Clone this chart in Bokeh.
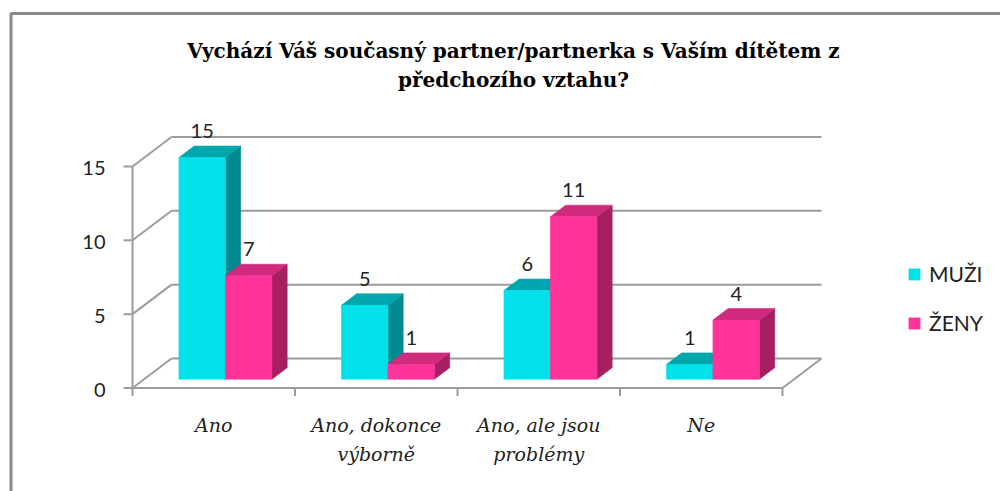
from bokeh.plotting import figure
from bokeh.models import Range1d, ColumnDataSource, Legend, LegendItem
from bokeh.core.properties import value
from bokeh.embed import file_html
from bokeh.resources import INLINE

# ---------------- data ----------------
title_text = "Vychází Váš současný partner/partnerka s Vaším dítětem z\npředchozího vztahu?"
categories = ["Ano", "Ano, dokonce\nvýborně", "Ano, ale jsou\nproblémy", "Ne"]
series_names = ["MUŽI", "ŽENY"]
muzi = [15, 5, 6, 1]
zeny = [7, 1, 11, 4]
y_ticks = [0, 5, 10, 15]

# ---------------- layout / style ----------------
W, H = 1000, 491
PX_X = 162.5     # px per category unit
PX_Y = 14.77     # px per value unit
X0_PX = 132      # px of the left front axis
Y0_PX = 387.5    # px (from top) of value 0 on the front plane

x_start = -0.5 - X0_PX / PX_X
x_end = x_start + W / PX_X
y_start = -(H - Y0_PX) / PX_Y
y_end = y_start + H / PX_Y


def sx(px):
    return x_start + px / PX_X


def sy(py):
    return y_end - py / PX_Y


def dxp(px):
    return px / PX_X


def dyp(px):
    return px / PX_Y


DX, DY = dxp(39), dyp(29.5)     # depth of the back wall
F0, F1 = 0.30, 0.69             # bar front/back depth fraction
BW = dxp(46.5)                  # bar width

GRID = "#9c9c9c"
CY_FRONT, CY_SIDE, CY_TOP = "#02E1EA", "#008A8F", "#00A6AD"
PK_FRONT, PK_SIDE, PK_TOP = "#FF3399", "#A61F60", "#CF2A7D"
TXT = "#222222"

p = figure(width=W, height=H, x_range=Range1d(x_start, x_end), y_range=Range1d(y_start, y_end),
           output_backend="svg", toolbar_location=None, x_axis_type=None, y_axis_type=None,
           min_border=0)
p.outline_line_color = None
p.background_fill_color = "white"
p.border_fill_color = "white"

n = len(categories)
xl, xr = -0.5, n - 0.5
vmax = max(y_ticks)

# outer chart-area border
p.line(x=[sx(10.5), sx(10.5), x_end], y=[y_start, sy(13), sy(13)], line_color="#8a8a8a", line_width=3)

# back wall gridlines
p.multi_line(xs=[[xl + DX, xr + DX] for v in y_ticks], ys=[[v + DY, v + DY] for v in y_ticks],
             line_color=GRID, line_width=2)
# left wall gridlines
p.multi_line(xs=[[xl, xl + DX] for v in y_ticks], ys=[[v, v + DY] for v in y_ticks],
             line_color=GRID, line_width=2)
# floor
p.multi_line(xs=[[xl, xr], [xr, xr + DX]], ys=[[0, 0], [0, DY]], line_color=GRID, line_width=2)
# y axis + ticks
p.multi_line(xs=[[xl, xl]] + [[xl - dxp(9), xl] for v in y_ticks],
             ys=[[0, vmax]] + [[v, v] for v in y_ticks], line_color=GRID, line_width=2)
# x ticks
p.multi_line(xs=[[xl + k, xl + k] for k in range(n + 1)], ys=[[0, -dyp(8)] for k in range(n + 1)],
             line_color=GRID, line_width=2)

# y tick labels
p.text(x=[xl - dxp(27)] * len(y_ticks), y=[v - dyp(2) for v in y_ticks], text=[str(v) for v in y_ticks],
       text_align="right", text_baseline="middle", text_font=value("Lato"), text_font_size="20px",
       text_color=TXT)


def bar_series(vals, offset, front, side, top):
    lefts = [i + F0 * DX + offset for i in range(n)]
    rights = [l + BW for l in lefts]
    bottoms = [F0 * DY] * n
    tops = [v + F0 * DY for v in vals]
    ddx, ddy = (F1 - F0) * DX, (F1 - F0) * DY
    side_xs = [[r, r + ddx, r + ddx, r] for r in rights]
    side_ys = [[b, b + ddy, t + ddy, t] for b, t in zip(bottoms, tops)]
    top_xs = [[l, r, r + ddx, l + ddx] for l, r in zip(lefts, rights)]
    top_ys = [[t, t, t + ddy, t + ddy] for t in tops]
    p.patches(xs=side_xs, ys=side_ys, fill_color=side, line_color=side, line_width=0.6)
    p.patches(xs=top_xs, ys=top_ys, fill_color=top, line_color=top, line_width=0.6)
    src = ColumnDataSource(dict(left=lefts, right=rights, bottom=bottoms, top=tops))
    r = p.quad(left="left", right="right", bottom="bottom", top="top", source=src,
               fill_color=front, line_color=front, line_width=0.6)
    # value labels
    p.text(x=[(l + rr) / 2 for l, rr in zip(lefts, rights)],
           y=[v + F1 * DY + dyp(15) for v in vals], text=[str(v) for v in vals],
           text_align="center", text_baseline="middle", text_font=value("Lato"),
           text_font_size="20px", text_color=TXT)
    return r


r_m = bar_series(muzi, -BW, CY_FRONT, CY_SIDE, CY_TOP)
r_z = bar_series(zeny, 0.0, PK_FRONT, PK_SIDE, PK_TOP)

# category labels
p.text(x=list(range(n)), y=[sy(413)] * n, text=categories, text_align="center", text_baseline="top",
       text_font=value("DejaVu Serif"), text_font_style="italic", text_font_size="19px",
       text_line_height=1.34, text_color=TXT)

# title
p.text(x=[sx(513)], y=[sy(38)], text=[title_text], text_align="center", text_baseline="top",
       text_font=value("DejaVu Serif"), text_font_style="bold", text_font_size="20px",
       text_line_height=1.23, text_color="black")

legend = Legend(items=[LegendItem(label=series_names[0], renderers=[r_m]),
                       LegendItem(label=series_names[1], renderers=[r_z])],
                location=(907, 156), orientation="vertical", glyph_width=14, glyph_height=14,
                label_height=24, spacing=24, padding=0, margin=0, label_standoff=8,
                border_line_color=None, background_fill_alpha=0,
                label_text_font="Lato", label_text_font_size="21px", label_text_color=TXT)
p.add_layout(legend)

open("out.html", "w").write(file_html(p, INLINE))
